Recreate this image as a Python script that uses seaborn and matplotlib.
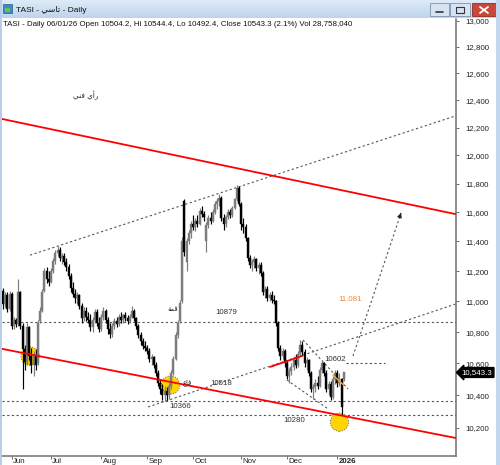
import numpy as np
import matplotlib
matplotlib.use('Agg')
import matplotlib.pyplot as plt
import matplotlib.transforms as mtransforms
from matplotlib.patches import Rectangle
from matplotlib.ticker import FixedLocator, FixedFormatter, NullLocator
import seaborn as sns

# ---------------- data (TASI daily, 26 May 2025 - 6 Jan 2026) ----------------
opens = [11070, 10980, 11040, 10950, 11050, 10840, 10880, 10850, 11060, 10840,
         10690, 10610, 10830, 10650, 10590, 10650, 10600, 10870, 10940, 11070,
         11200, 11150, 11130, 11200, 11270, 11320, 11340, 11290, 11300, 11260,
         11230, 11170, 11090, 11050, 11020, 11040, 10970, 10890, 10940, 10900,
         10880, 10830, 10880, 10930, 10860, 10820, 10900, 10940, 10880, 10820,
         10790, 10840, 10870, 10850, 10900, 10880, 10910, 10890, 10870, 10900,
         10940, 10890, 10840, 10780, 10740, 10710, 10700, 10680, 10630, 10640,
         10590, 10540, 10480, 10440, 10400, 10430, 10400, 10460, 10540, 10630,
         10780, 10870, 11000, 11680, 11260, 11400, 11460, 11520, 11500, 11540,
         11520, 11610, 11590, 11400, 11510, 11560, 11540, 11600, 11660, 11680,
         11700, 11560, 11520, 11570, 11600, 11580, 11630, 11690, 11770, 11660,
         11520, 11500, 11420, 11290, 11240, 11260, 11280, 11220, 11240, 11190,
         11060, 11080, 11020, 11040, 11010, 11000, 10860, 10700, 10650, 10680,
         10600, 10520, 10550, 10580, 10620, 10590, 10660, 10720, 10670, 10600,
         10620, 10540, 10440, 10450, 10480, 10460, 10560, 10600, 10540, 10440,
         10470, 10390, 10500, 10540, 10480, 10500, 10504.2]
highs = [11090, 11060, 11060, 11070, 11060, 10900, 10890, 11150, 11070, 10860,
         10720, 10860, 10840, 10700, 10680, 10690, 10880, 10960, 11080, 11220,
         11230, 11200, 11220, 11290, 11340, 11370, 11360, 11320, 11320, 11290,
         11250, 11190, 11130, 11080, 11060, 11050, 10990, 10960, 10960, 10930,
         10920, 10900, 10950, 10950, 10900, 10920, 10960, 10950, 10900, 10860,
         10860, 10890, 10900, 10920, 10930, 10920, 10930, 10910, 10920, 10970,
         10950, 10900, 10850, 10800, 10760, 10740, 10720, 10700, 10660, 10650,
         10610, 10560, 10500, 10470, 10460, 10450, 10480, 10560, 10650, 10800,
         10880, 11010, 11430, 11690, 11420, 11480, 11540, 11580, 11560, 11580,
         11630, 11640, 11610, 11530, 11580, 11600, 11620, 11680, 11700, 11730,
         11710, 11590, 11580, 11620, 11620, 11640, 11700, 11790, 11780, 11670,
         11560, 11520, 11430, 11310, 11280, 11300, 11290, 11260, 11260, 11200,
         11100, 11100, 11060, 11070, 11040, 11010, 10870, 10720, 10700, 10690,
         10620, 10570, 10600, 10650, 10660, 10680, 10750, 10740, 10690, 10640,
         10630, 10550, 10470, 10500, 10520, 10580, 10620, 10610, 10560, 10490,
         10490, 10520, 10560, 10560, 10540, 10510, 10544.4]
lows = [10950, 10960, 10930, 10940, 10820, 10820, 10830, 10840, 10820, 10440,
        10560, 10590, 10620, 10540, 10520, 10560, 10590, 10860, 10930, 11060,
        11120, 11100, 11120, 11190, 11250, 11300, 11270, 11250, 11240, 11200,
        11150, 11060, 11030, 10990, 10980, 10950, 10860, 10870, 10870, 10860,
        10810, 10800, 10860, 10840, 10800, 10810, 10880, 10860, 10790, 10760,
        10770, 10820, 10830, 10840, 10860, 10860, 10870, 10850, 10860, 10890,
        10870, 10820, 10760, 10720, 10690, 10680, 10660, 10610, 10590, 10570,
        10520, 10460, 10410, 10370, 10366, 10370, 10380, 10440, 10530, 10620,
        10760, 10860, 10990, 11300, 11200, 11380, 11420, 11480, 11470, 11500,
        11510, 11570, 11540, 11330, 11490, 11520, 11530, 11590, 11620, 11640,
        11540, 11480, 11500, 11550, 11560, 11570, 11620, 11680, 11640, 11480,
        11460, 11400, 11270, 11220, 11200, 11220, 11200, 11180, 11170, 11040,
        11020, 11000, 11000, 10990, 10980, 10840, 10680, 10620, 10630, 10580,
        10500, 10480, 10530, 10560, 10570, 10580, 10650, 10650, 10580, 10560,
        10520, 10420, 10380, 10420, 10440, 10450, 10540, 10520, 10420, 10400,
        10370, 10380, 10470, 10450, 10460, 10280, 10492.4]
closes = [10980, 11040, 10950, 11050, 10840, 10880, 10850, 11060, 10840, 10690,
          10610, 10830, 10650, 10590, 10650, 10590, 10860, 10940, 11060, 11200,
          11150, 11130, 11200, 11270, 11320, 11340, 11290, 11300, 11260, 11230,
          11170, 11090, 11050, 11020, 11040, 10970, 10890, 10940, 10900, 10880,
          10830, 10880, 10930, 10860, 10820, 10900, 10940, 10880, 10820, 10790,
          10840, 10870, 10850, 10900, 10880, 10910, 10890, 10870, 10900, 10940,
          10890, 10840, 10780, 10740, 10710, 10700, 10680, 10630, 10640, 10590,
          10540, 10480, 10440, 10400, 10430, 10400, 10460, 10540, 10630, 10780,
          10860, 10990, 11400, 11330, 11400, 11460, 11520, 11500, 11540, 11520,
          11610, 11590, 11570, 11510, 11560, 11540, 11600, 11660, 11680, 11700,
          11560, 11520, 11570, 11600, 11580, 11630, 11690, 11770, 11660, 11520,
          11500, 11420, 11290, 11240, 11260, 11280, 11220, 11240, 11190, 11060,
          11080, 11020, 11040, 11010, 11000, 10860, 10700, 10650, 10680, 10600,
          10520, 10550, 10580, 10620, 10590, 10660, 10720, 10670, 10600, 10620,
          10540, 10440, 10450, 10480, 10460, 10560, 10600, 10540, 10440, 10470,
          10390, 10500, 10540, 10480, 10500, 10326, 10543.3]

month_pos = [4, 22, 45, 66, 87, 109, 130, 153]          # first trading day index
month_labels = ['Jun', 'Jul', 'Aug', 'Sep', 'Oct', 'Nov', 'Dec', '2026']
ytick_values = [10200, 10400, 10600, 10800, 11000, 11200, 11400, 11600,
                11800, 12000, 12200, 12400, 12600, 12800, 13000]

# drawn trend lines: ((x0, x1), (p0, p1)) in bar index / price
red_upper = ([-0.44, 207.1], [12263, 11587])
red_lower = ([-0.44, 207.1], [10693, 10140])
red_short = ([122.2, 136.9], [10578, 10648])
dot_upper = ([12.4, 207.1], [11307, 12285])
dot_mid = ([66.4, 207.1], [10329, 10982])
wedge_top = ([137.3, 157.9], [10750, 10440])
wedge_bot = ([130.0, 148.8], [10496, 10317])
orange_seg = ([151.0, 155.9], [10527, 10465])
target_arrow = ([160.2, 182.2], [10648, 11595])
levels_full = [10865, 10366, 10280]
level_10602 = ([157.0, 174.8], [10602, 10602])
circles_x = [12.4, 76.7, 154.0]
circles_y = [10647, 10465, 10236]
level_labels = ['10879', '10518', '10366', '10280', '10602']
level_label_x = [102.1, 100.0, 81.0, 133.2, 152.0]
level_label_y = [10930, 10474, 10331, 10246, 10623]

header = ('TASI - Daily 06/01/26 Open 10504.2, Hi 10544.4, Lo 10492.4, '
          'Close 10543.3 (2.1%) Vol 28,758,040')
last_close = closes[-1]

# ---------------- figure ----------------
sns.set_theme(style='white')
plt.rcParams['font.family'] = ['Liberation Sans', 'DejaVu Sans']
FS = 5.7
W, H = 500, 465
fig = plt.figure(figsize=(W / 100, H / 100), dpi=100)
fig.patch.set_facecolor('white')

ax = fig.add_axes([2 / W, 9 / H, 453.5 / W, 437 / H])
ax.set_facecolor('white')
ax.set_yscale('log')
ax.set_xlim(-0.44, 207.1)
ax.set_ylim(10031.5, 13015.5)

# candles
idx = np.arange(len(closes))
o = np.array(opens, float); c = np.array(closes, float)
h = np.array(highs, float); l = np.array(lows, float)
col = np.where(c >= o, '#7c7c7c', '#000000')
ax.vlines(idx, l, h, colors=col, lw=0.85, zorder=4)
bot = np.minimum(o, c); top = np.maximum(o, c)
ax.bar(idx, top - bot, bottom=bot, width=0.9, color=col, edgecolor=col,
       lw=0.3, zorder=4)

# yellow circles
sns.scatterplot(x=circles_x, y=circles_y, ax=ax, s=175, color='#ffd400',
                edgecolor='#666666', linewidth=0.7, linestyle=':', zorder=3,
                legend=False)

dots = (0, (2.0, 2.2))
def seg(line, **kw):
    sns.lineplot(x=line[0], y=line[1], ax=ax, sort=False, legend=False,
                 estimator=None, **kw)

seg(red_upper, color='#ff0000', lw=1.3, zorder=5)
seg(red_lower, color='#ff0000', lw=1.3, zorder=5)
seg(red_short, color='#ff0000', lw=1.3, zorder=6)
for ln in (dot_upper, dot_mid, wedge_top, wedge_bot, level_10602):
    seg(ln, color='#555555', lw=0.8, linestyle=dots, zorder=2)
for lv in levels_full:
    seg(([-0.44, 207.1], [lv, lv]), color='#555555', lw=0.8,
        linestyle=dots, zorder=2)
seg(orange_seg, color='#f5a623', lw=1.1, zorder=6)
seg(target_arrow, color='#555555', lw=0.8, linestyle=dots, zorder=2)
ax.annotate('', xy=(target_arrow[0][1], target_arrow[1][1]),
            xytext=(target_arrow[0][1] - 0.6, target_arrow[1][1] - 25),
            arrowprops=dict(arrowstyle='-|>', color='#222222', lw=0.6,
                            mutation_scale=7), zorder=6)

# labels on chart
for t, x, y in zip(level_labels, level_label_x, level_label_y):
    ax.text(x, y, t, fontsize=FS, color='#333333', ha='center', va='center',
            zorder=7)
ax.text(158.8, 11009, '11.081', fontsize=FS, color='#f08a3c', ha='center',
        va='center', zorder=7)
# Arabic labels (presentation forms, visual order)
ax.text(38.0, 12440, '\ufef2\ufee8\ufed3 \ufef1\ufe83\ufead', fontsize=5.2,
        color='#222222', ha='center', va='center',
        family=['DejaVu Sans'], zorder=7)
ax.text(77.6, 10950, '\ufe94\ufee4\ufed7', fontsize=4.8, color='#222222',
        ha='center', va='center', family=['DejaVu Sans'], zorder=7)
ax.text(84.5, 10480, '\ufec9\ufe8e\ufed7', fontsize=4.8, color='#222222',
        ha='center', va='center', family=['DejaVu Sans'], zorder=7)

# axes styling
for s in ('left', 'top'):
    ax.spines[s].set_visible(False)
for s in ('right', 'bottom'):
    ax.spines[s].set_color('#707070')
    ax.spines[s].set_linewidth(1.1)
ax.yaxis.tick_right()
ax.yaxis.set_major_locator(FixedLocator(ytick_values))
ax.yaxis.set_major_formatter(FixedFormatter([f'{v:,}' for v in ytick_values]))
ax.yaxis.set_minor_locator(NullLocator())
ax.tick_params(axis='y', which='major', direction='out', length=2.2,
               width=0.6, color='#555555', pad=5, labelsize=FS,
               labelcolor='#222222', right=True, left=False)
ax.set_xticks(month_pos)
ax.set_xticklabels([])
ax.tick_params(axis='x', direction='out', length=2.0, width=0.6,
               color='#555555', bottom=True)
trans = mtransforms.blended_transform_factory(ax.transData, ax.transAxes) + \
    mtransforms.ScaledTranslation(1.2 / 100, -1.5 / 100, fig.dpi_scale_trans)
for p, lab in zip(month_pos, month_labels):
    ax.text(p, 0, lab, transform=trans, fontsize=FS, ha='left', va='top',
            color='#222222', fontweight='bold' if lab == '2026' else 'normal')
ax.set_xlabel(''); ax.set_ylabel('')

# last price tag
ax.annotate(f'{last_close:,.1f}', xy=(1, last_close),
            xycoords=('axes fraction', 'data'), xytext=(4.5, 0),
            textcoords='offset points', ha='left', va='center', fontsize=FS,
            color='white', annotation_clip=False,
            bbox=dict(boxstyle='larrow,pad=0.18', fc='black', ec='black'))

# header text
fig.text(3 / W, 1 - 24 / H, header, fontsize=FS, color='#111111',
         ha='left', va='center')

# ---------------- window chrome ----------------
fig.patches.append(Rectangle((0, 0), 2 / W, 1, transform=fig.transFigure,
                             fc='#b7cde8', ec='none', zorder=0))
fig.patches.append(Rectangle((496 / W, 0), 4 / W, 1, transform=fig.transFigure,
                             fc='#c3d7ee', ec='none', zorder=0))
tb = fig.add_axes([0, 1 - 18 / H, 1, 18 / H])
grad = np.linspace(0, 1, 18)[:, None, None]
c0 = np.array([0.87, 0.92, 0.97]); c1 = np.array([0.75, 0.83, 0.93])
img = c0 * (1 - grad) + c1 * grad
tb.imshow(np.repeat(img, 2, axis=1), extent=(0, 500, 18, 0), aspect='auto')
tb.set_xlim(0, 500); tb.set_ylim(18, 0); tb.axis('off')
tb.add_patch(Rectangle((3, 4), 9, 9, fc='#3c8dbc', ec='#2b5f8a', lw=0.5))
tb.add_patch(Rectangle((5, 8), 5, 4, fc='#6cbf4a', ec='none'))
tb.text(16, 9.5, 'TASI - \ufef2\ufeb3\ufe8e\ufe97 - Daily', fontsize=6,
        color='#111111', va='center', ha='left')
for x0, w in ((430, 19), (450, 20)):
    tb.add_patch(Rectangle((x0, 3.5), w, 12.5, fc='#d6e3f2', ec='#7d93b2',
                           lw=0.6))
tb.plot([436, 443], [12, 12], color='#333333', lw=1.2)
tb.add_patch(Rectangle((456, 7), 8, 6, fc='none', ec='#333333', lw=0.8))
tb.add_patch(Rectangle((472, 3.5), 24, 12.5, fc='#c9483a', ec='#8c2f25',
                       lw=0.6))
tb.plot([480, 488], [7, 13], color='white', lw=1.3)
tb.plot([480, 488], [13, 7], color='white', lw=1.3)

fig.savefig('out.png', dpi=100, facecolor='white')
